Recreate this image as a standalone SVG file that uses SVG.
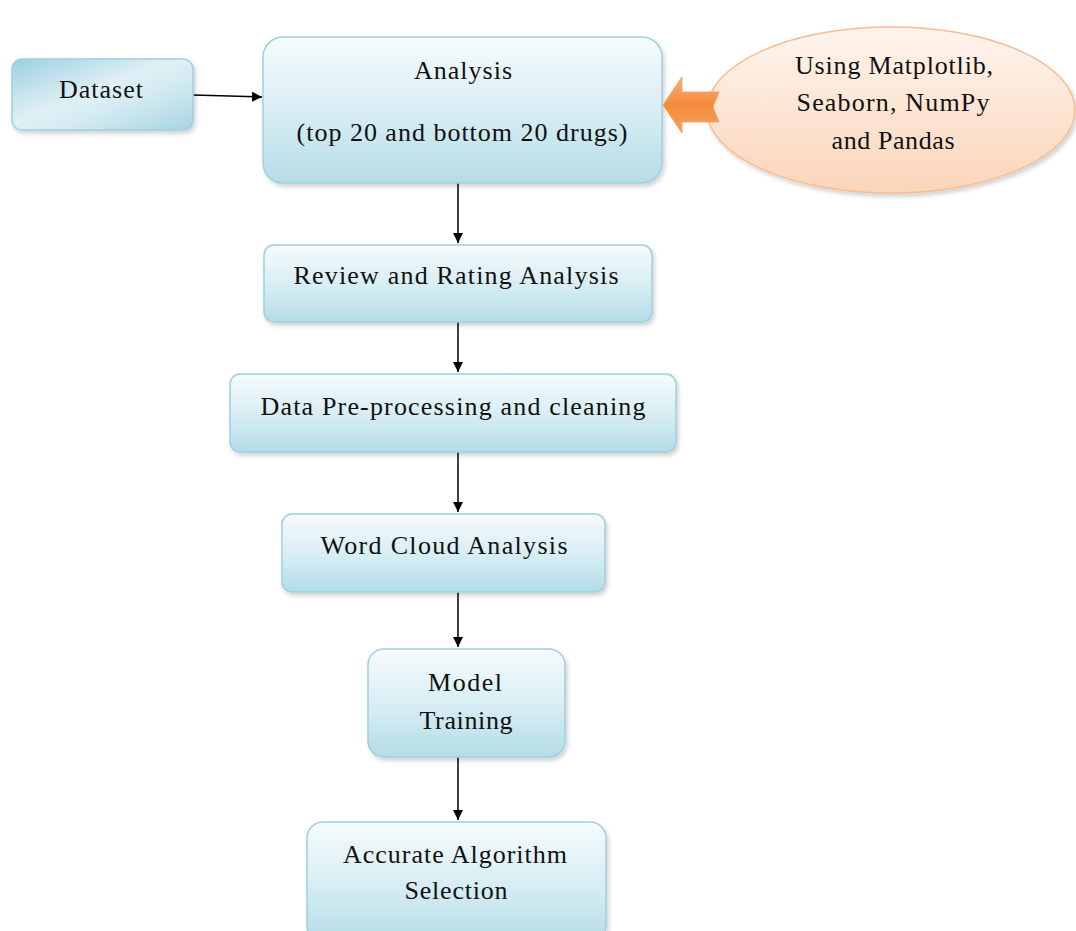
<svg xmlns="http://www.w3.org/2000/svg" width="1076" height="931" viewBox="0 0 1076 931">
<defs>
<linearGradient id="gBox" x1="0" y1="0" x2="0" y2="1">
<stop offset="0" stop-color="#f6fbfd"/>
<stop offset="0.5" stop-color="#d9eef4"/>
<stop offset="1" stop-color="#b4dce7"/>
</linearGradient>
<linearGradient id="gData" x1="0" y1="0" x2="1" y2="1">
<stop offset="0" stop-color="#9bd0df"/>
<stop offset="0.45" stop-color="#dff0f5"/>
<stop offset="0.6" stop-color="#d6ecf2"/>
<stop offset="1" stop-color="#a6d5e2"/>
</linearGradient>
<linearGradient id="gEll" x1="0" y1="0" x2="0" y2="1">
<stop offset="0" stop-color="#fef5ee"/>
<stop offset="1" stop-color="#fbd5b8"/>
</linearGradient>
<linearGradient id="gArr" x1="0" y1="0" x2="0" y2="1">
<stop offset="0" stop-color="#f9b27a"/>
<stop offset="0.5" stop-color="#f28a3a"/>
<stop offset="1" stop-color="#f6a463"/>
</linearGradient>
<filter id="sh" x="-10%" y="-10%" width="130%" height="130%">
<feDropShadow dx="2" dy="3" stdDeviation="2" flood-color="#000" flood-opacity="0.18"/>
</filter>
<marker id="ah" viewBox="0 0 10 10" refX="10" refY="5" markerWidth="10" markerHeight="10" markerUnits="userSpaceOnUse" orient="auto">
<path d="M0,0 L10,5 L0,10 z" fill="#000"/>
</marker>
<style>
.box{fill:url(#gBox);stroke:#9fd0dd;stroke-width:1.5;filter:url(#sh)}
.t{font-family:"Liberation Serif","Times New Roman",serif;font-size:26px;fill:#111;text-anchor:middle}
.c{stroke:#000;stroke-width:1.5;fill:none;marker-end:url(#ah)}
</style>
</defs>
<rect width="1076" height="931" fill="#fff"/>

<g id="connectors">
<line class="c" x1="193" y1="95" x2="262" y2="97"/>
<line class="c" x1="458" y1="183" x2="458" y2="243"/>
<line class="c" x1="458" y1="322" x2="458" y2="372"/>
<line class="c" x1="458" y1="452" x2="458" y2="512"/>
<line class="c" x1="458" y1="592" x2="458" y2="647"/>
<line class="c" x1="458" y1="757" x2="458" y2="820"/>
</g>

<g id="node-dataset">
<rect x="12" y="59" width="181" height="71" rx="10" fill="url(#gData)" stroke="#9fd0dd" stroke-width="1.5" filter="url(#sh)"/>
<text class="t" x="101" y="98" textLength="84" lengthAdjust="spacing">Dataset</text>
</g>

<g id="node-analysis">
<rect class="box" x="263" y="37" width="399" height="146" rx="20"/>
<text class="t" x="463" y="79" textLength="98" lengthAdjust="spacing">Analysis</text>
<text class="t" x="462" y="141" textLength="331" lengthAdjust="spacing">(top 20 and bottom 20 drugs)</text>
</g>

<g id="node-tools">
<ellipse cx="891" cy="110" rx="184" ry="83" fill="url(#gEll)" stroke="#f6bd93" stroke-width="1.5" filter="url(#sh)"/>
<text class="t" x="894" y="74" textLength="198" lengthAdjust="spacing">Using Matplotlib,</text>
<text class="t" x="893" y="111" textLength="193" lengthAdjust="spacing">Seaborn, NumPy</text>
<text class="t" x="893" y="149" textLength="123" lengthAdjust="spacing">and Pandas</text>
</g>

<g id="tools-arrow">
<path d="M663,105 L682,77 L682,92 L719,92 L713,107 L719,122 L682,122 L682,133 Z" fill="url(#gArr)" stroke="#f4a46a" stroke-width="1"/>
</g>

<g id="node-review">
<rect class="box" x="264" y="245" width="388" height="77" rx="10"/>
<text class="t" x="456" y="284" textLength="325" lengthAdjust="spacing">Review and Rating Analysis</text>
</g>

<g id="node-preprocess">
<rect class="box" x="230" y="374" width="446" height="78" rx="10"/>
<text class="t" x="453" y="415" textLength="385" lengthAdjust="spacing">Data Pre-processing and cleaning</text>
</g>

<g id="node-wordcloud">
<rect class="box" x="282" y="514" width="323" height="78" rx="10"/>
<text class="t" x="444" y="554" textLength="247" lengthAdjust="spacing">Word Cloud Analysis</text>
</g>

<g id="node-training">
<rect class="box" x="368" y="649" width="197" height="108" rx="16"/>
<text class="t" x="465" y="691" textLength="74" lengthAdjust="spacing">Model</text>
<text class="t" x="466" y="729" textLength="93" lengthAdjust="spacing">Training</text>
</g>

<g id="node-selection">
<rect class="box" x="307" y="822" width="299" height="120" rx="16"/>
<text class="t" x="455" y="863" textLength="224" lengthAdjust="spacing">Accurate Algorithm</text>
<text class="t" x="456" y="899" textLength="103" lengthAdjust="spacing">Selection</text>
</g>
</svg>
